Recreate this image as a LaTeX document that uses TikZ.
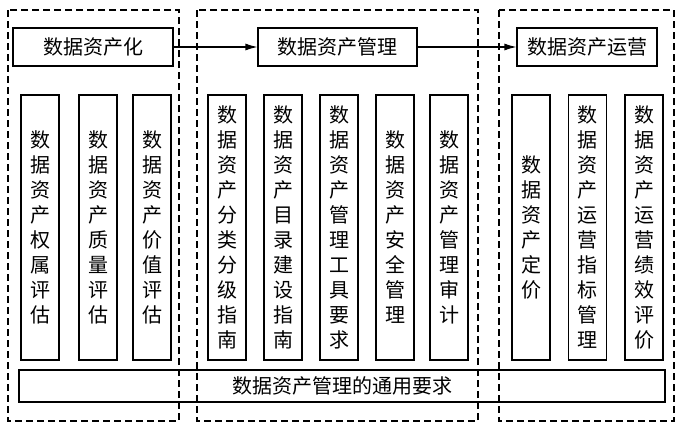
\documentclass[tikz,border=0pt]{standalone}
\usepackage{fontspec}
\newfontfamily\cjk{Noto Sans CJK SC}
\usetikzlibrary{arrows.meta}

\begin{document}
\begin{tikzpicture}[x=1pt,y=1pt,yscale=-1,xscale=1,
  kuang/.style={draw,line width=1.1pt,inner sep=0pt,font=\cjk\fontsize{20}{25}\selectfont},
  heng/.style={kuang,minimum height=38pt},
  shu/.style={kuang,minimum width=38pt,minimum height=265pt,align=center},
  quyu/.style={dash pattern=on 7pt off 4pt,line width=1.1pt},
  jiantou/.style={-{Latex[length=12pt,width=7pt]},line width=1.1pt}]
\useasboundingbox (0,0) rectangle (683,429);

%Dashed regions
\draw [quyu] (8,10) rectangle (179,421) ;
\draw [quyu] (197,10) rectangle (478,421) ;
\draw [quyu] (499,10) rectangle (674,421) ;

%Top boxes
\node [heng,minimum width=160pt] (hua) at (93,47) {数据资产化};
\node [heng,minimum width=159pt] (guanli) at (337.5,47) {数据资产管理};
\node [heng,minimum width=140pt] (yunying) at (587,47) {数据资产运营};

%Arrows
\draw [jiantou] (hua) -- (guanli) ;
\draw [jiantou] (guanli) -- (yunying) ;

%Vertical boxes, left
\node [shu] (a1) at (40,227.5) {数\\据\\资\\产\\权\\属\\评\\估};
\node [shu] (a2) at (98,227.5) {数\\据\\资\\产\\质\\量\\评\\估};
\node [shu] (a3) at (152,227.5) {数\\据\\资\\产\\价\\值\\评\\估};

%Vertical boxes, middle
\node [shu] (b1) at (227,227.5) {数\\据\\资\\产\\分\\类\\分\\级\\指\\南};
\node [shu] (b2) at (283,227.5) {数\\据\\资\\产\\目\\录\\建\\设\\指\\南};
\node [shu] (b3) at (339,227.5) {数\\据\\资\\产\\管\\理\\工\\具\\要\\求};
\node [shu] (b4) at (395,227.5) {数\\据\\资\\产\\安\\全\\管\\理};
\node [shu] (b5) at (449,227.5) {数\\据\\资\\产\\管\\理\\审\\计};

%Vertical boxes, right
\node [shu] (c1) at (531,227.5) {数\\据\\资\\产\\定\\价};
\node [shu] (c2) at (587.5,227.5) {数\\据\\资\\产\\运\\营\\指\\标\\管\\理};
\node [shu] (c3) at (644,227.5) {数\\据\\资\\产\\运\\营\\绩\\效\\评\\价};

%Bottom box
\node [kuang,minimum width=646pt,minimum height=32pt] (tongyong) at (342,386) {数据资产管理的通用要求};

\end{tikzpicture}
\end{document}
